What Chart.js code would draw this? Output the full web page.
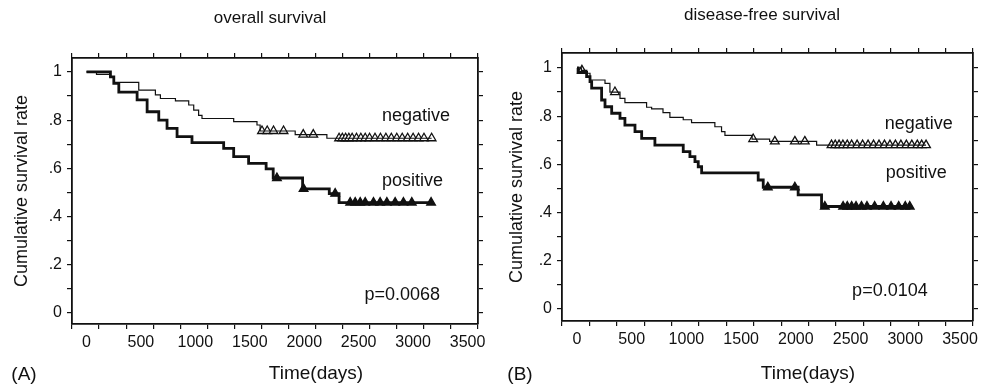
<!DOCTYPE html>
<html>
<head>
<meta charset="utf-8">
<script src="https://cdn.jsdelivr.net/npm/chart.js@4.4.1/dist/chart.umd.min.js"></script>
<style>
  html, body { margin: 0; padding: 0; background: #fff; }
  #wrap { position: relative; width: 988px; height: 391px; }
  canvas { position: absolute; top: 0; }
  #panelA { left: 0; }
  #panelB { left: 494px; }
</style>
</head>
<body>
<div id="wrap">
  <canvas id="panelA" width="494" height="391"></canvas>
  <canvas id="panelB" width="494" height="391"></canvas>
</div>
<script>
// Kaplan-Meier steps: [day, cumulative survival]
// (A) overall survival
const overallNeg = [[0,1],[92,0.99],[220,0.98],[251,0.957],[480,0.925],[633,0.905],[679,0.89],[817,0.88],[939,0.863],[985,0.842],[1030,0.82],[1061,0.807],[1352,0.794],[1566,0.78],[1595,0.755],[1917,0.74],[2208,0.725],[3170,0.725]];
const overallNegCensored = [1612,1660,1718,1810,1991,2083,2320,2350,2380,2410,2440,2480,2520,2560,2600,2650,2700,2750,2800,2850,2900,2950,3000,3050,3100,3170];
const overallPos = [[0,1],[220,0.98],[251,0.953],[297,0.916],[465,0.884],[557,0.835],[664,0.80],[740,0.766],[832,0.732],[969,0.707],[1260,0.683],[1352,0.649],[1489,0.621],[1650,0.598],[1715,0.56],[1985,0.515],[2230,0.495],[2320,0.458],[3165,0.458]];
const overallPosCensored = [1749,1994,2284,2422,2468,2514,2560,2636,2697,2759,2835,2911,2988,3165];

// (B) disease-free survival
const dfsNeg = [[0,1],[40,0.99],[90,0.978],[119,0.95],[256,0.936],[301,0.9],[393,0.874],[438,0.856],[636,0.837],[682,0.83],[786,0.815],[849,0.795],[971,0.785],[1047,0.773],[1260,0.756],[1321,0.736],[1352,0.72],[1600,0.705],[1760,0.695],[2190,0.68],[3190,0.68]];
const dfsNegCensored = [45,347,1610,1808,1991,2082,2326,2360,2395,2430,2470,2510,2560,2610,2660,2710,2760,2810,2860,2910,2960,3010,3060,3110,3150,3190];
const dfsPos = [[0,1],[10,0.981],[88,0.964],[119,0.943],[134,0.916],[225,0.867],[256,0.839],[317,0.812],[393,0.791],[438,0.763],[530,0.736],[591,0.708],[712,0.68],[971,0.653],[1032,0.632],[1078,0.611],[1108,0.59],[1139,0.565],[1656,0.535],[1702,0.505],[2021,0.473],[2235,0.425],[3041,0.425]];
const dfsPosCensored = [1744,1991,2265,2432,2470,2510,2550,2600,2650,2720,2800,2870,2940,3000,3041];

const xTickLabels = ['0','500','1000','1500','2000','2500','3000','3500'];
const yTickLabels = ['0','.2','.4','.6','.8','1'];

const black = '#111';
const family = "'Liberation Sans', Arial, sans-serif";
Chart.defaults.font.family = family;
Chart.defaults.color = black;

// survival value of a step curve at day t (used to sit censor marks on the line)
function survivalAt(curve, t) {
  let s = curve[0][1];
  curve.forEach(([ti, si]) => { if (ti <= t) s = si; });
  return s;
}

// free text: x tick numbers, titles, group names, p-values
const panelText = {
  id: 'panelText',
  afterDraw(chart, args, o) {
    const { ctx, scales: { x, y } } = chart;
    ctx.save();
    ctx.fillStyle = black;
    ctx.textBaseline = 'middle';
    ctx.textAlign = 'center';
    ctx.font = '16px ' + family;
    xTickLabels.forEach(lab => ctx.fillText(lab, x.getPixelForValue(Number(lab)), x.top + 19));
    ctx.font = '18px ' + family;
    ctx.textAlign = 'right';
    o.notes.forEach(n => ctx.fillText(n.text, x.getPixelForValue(n.t), y.getPixelForValue(n.s)));
    ctx.textAlign = 'center';
    ctx.font = '17px ' + family;
    ctx.fillText(o.title, o.titleAt[0], o.titleAt[1]);
    ctx.font = '19px ' + family;
    ctx.fillText('Time(days)', o.xTitleAt[0], o.xTitleAt[1]);
    ctx.fillText(o.tag, o.tagAt[0], o.tagAt[1]);
    ctx.restore();
  }
};

function tickGrid() {
  return { drawOnChartArea: false, tickLength: 5, color: black, lineWidth: 1.2 };
}
const frame = { color: black, width: 1.8 };

function makePanel(id, p) {
  const xTicks = {
    stepSize: 250, includeBounds: false, autoSkip: false, maxRotation: 0,
    font: { size: 16 }, color: black, padding: 4,
    callback: () => ''
  };
  const yTicks = {
    stepSize: 0.1, includeBounds: false, autoSkip: false,
    font: { size: 16 }, color: black, padding: 5,
    callback: v => { const k = Math.round(v * 10); return k % 2 === 0 ? yTickLabels[k / 2] : ''; }
  };
  new Chart(document.getElementById(id), {
    type: 'line',
    data: {
      datasets: [
        { data: p.neg.map(([t, s]) => ({ x: t, y: s })), stepped: true, borderColor: black, borderWidth: 1.2, pointRadius: 0, fill: false },
        { data: p.pos.map(([t, s]) => ({ x: t, y: s })), stepped: true, borderColor: black, borderWidth: 2.8, pointRadius: 0, fill: false },
        { data: p.negCens.map(t => ({ x: t, y: survivalAt(p.neg, t) })), showLine: false, pointStyle: 'triangle',
          pointRadius: 5, pointBackgroundColor: '#fff', pointBorderColor: black, pointBorderWidth: 1.3 },
        { data: p.posCens.map(t => ({ x: t, y: survivalAt(p.pos, t) })), showLine: false, pointStyle: 'triangle',
          pointRadius: 5, pointBackgroundColor: black, pointBorderColor: black, pointBorderWidth: 1.3 }
      ]
    },
    options: {
      responsive: false,
      animation: false,
      devicePixelRatio: 1,
      layout: { padding: { left: 0, top: p.box.top, right: p.box.right, bottom: 0 } },
      plugins: {
        legend: { display: false },
        tooltip: { enabled: false },
        panelText: p.text
      },
      scales: {
        x: { type: 'linear', position: 'bottom', min: p.xMin, max: p.xMax, ticks: xTicks,
             grid: tickGrid(), border: frame, afterFit: s => { s.height = p.box.bottom; } },
        x2: { type: 'linear', position: 'top', min: p.xMin, max: p.xMax, ticks: Object.assign({}, xTicks),
              grid: tickGrid(), border: frame, afterFit: s => { s.height = 8; } },
        y: { type: 'linear', position: 'left', min: p.yMin, max: p.yMax, ticks: yTicks,
             grid: tickGrid(), border: frame,
             title: { display: true, text: 'Cumulative survival rate', font: { size: 18 }, color: black, padding: { top: p.box.yTitle, bottom: 0 } },
             afterFit: s => { s.width = p.box.left; } },
        y2: { type: 'linear', position: 'right', min: p.yMin, max: p.yMax,
              ticks: Object.assign({}, yTicks, { callback: () => '' }),
              grid: tickGrid(), border: frame, afterFit: s => { s.width = 10; } }
      }
    },
    plugins: [panelText]
  });
}

makePanel('panelA', {
  neg: overallNeg, pos: overallPos, negCens: overallNegCensored, posCens: overallPosCensored,
  xMin: -133, xMax: 3596, yMin: -0.046, yMax: 1.058,
  box: { top: 50, right: 6, bottom: 67, left: 72, yTitle: 11 },
  text: {
    title: 'overall survival', titleAt: [270, 18],
    xTitleAt: [316, 374], tag: '(A)', tagAt: [24, 375],
    notes: [
      { text: 'negative', t: 3339, s: 0.817 },
      { text: 'positive', t: 3275, s: 0.548 },
      { text: 'p=0.0068', t: 3248, s: 0.075 }
    ]
  }
});

makePanel('panelB', {
  neg: dfsNeg, pos: dfsPos, negCens: dfsNegCensored, posCens: dfsPosCensored,
  xMin: -137, xMax: 3619, yMin: -0.05, yMax: 1.062,
  box: { top: 45, right: 5, bottom: 70, left: 68, yTitle: 12 },
  text: {
    title: 'disease-free survival', titleAt: [268, 15],
    xTitleAt: [314, 374], tag: '(B)', tagAt: [26, 375],
    notes: [
      { text: 'negative', t: 3434, s: 0.768 },
      { text: 'positive', t: 3379, s: 0.562 },
      { text: 'p=0.0104', t: 3205, s: 0.073 }
    ]
  }
});
</script>
</body>
</html>
